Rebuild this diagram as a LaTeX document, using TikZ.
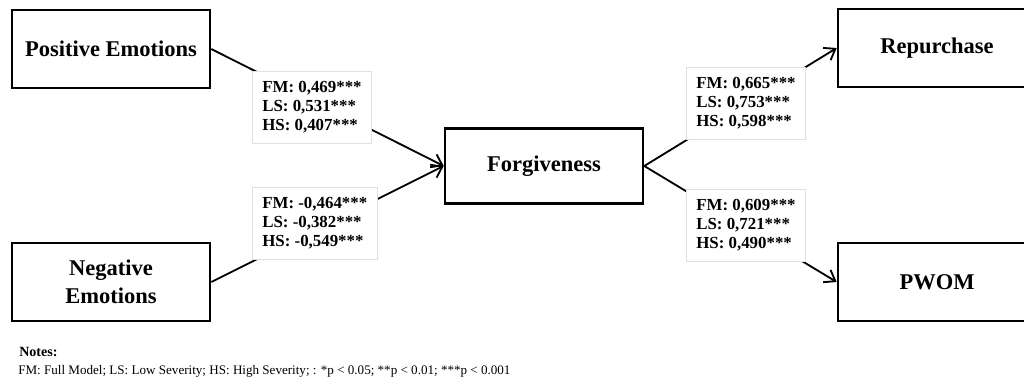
\documentclass[tikz,border=0pt]{standalone}
\usepackage{fontspec}
\setmainfont{Liberation Serif}
\usetikzlibrary{arrows.meta}

\begin{document}
\begin{tikzpicture}[x=0.025cm, y=-0.025cm,
  var/.style={draw, line width=1.8pt, minimum width=4.95cm, minimum height=1.95cm,
    inner sep=2pt, align=center, font=\fontsize{16}{20}\selectfont\bfseries},
  coef/.style={draw=gray!25, line width=0.4pt, fill=white, anchor=north west,
    align=left, inner xsep=0.25cm, inner ysep=7pt,
    font=\fontsize{12}{13.6}\selectfont\bfseries},
  link/.style={line width=1.3pt, -{Straight Barb[length=2.5mm,width=3.6mm]}},
  note/.style={anchor=base west, inner sep=0pt, font=\fontsize{9.3}{11}\selectfont}]

\useasboundingbox (0,0) rectangle (1024,386);
\clip (0,0) rectangle (1024,386);

% ---------- Constructs ----------
\node[var] (pos) at (111,49) {Positive Emotions};
\node[var] (neg) at (111,282) {Negative\\Emotions};
\node[var, minimum height=1.875cm] (forg) at (544,166) {Forgiveness};
\node[var] (rep) at (937,48) {Repurchase};
\node[var] (pwom) at (937,282) {PWOM};

% Paths
\draw[link] (pos.east) -- (forg.west);
\draw[link] (neg.east) -- (forg.west);
\draw[link] (forg.east) -- (rep.west);
\draw[link] (forg.east) -- (pwom.west);

% ---------- Path coefficients ----------
\node[coef] (cpos) at (252,71) {FM: 0,469***\\LS: 0,531***\\HS: 0,407***};
\node[coef] (cneg) at (252,187) {FM: -0,464***\\LS: -0,382***\\HS: -0,549***};
\node[coef] (crep) at (686,67) {FM: 0,665***\\LS: 0,753***\\HS: 0,598***};
\node[coef] (cpwom) at (686,189) {FM: 0,609***\\LS: 0,721***\\HS: 0,490***};

% ---------- Notes ----------
\node[note, font=\fontsize{10}{12}\selectfont\bfseries] (notes) at (19,356) {Notes:};
\node[note] (legend) at (18,374) {FM: Full Model; LS: Low Severity; HS: High Severity; : *p < 0.05; **p < 0.01; ***p < 0.001};

\end{tikzpicture}
\end{document}
